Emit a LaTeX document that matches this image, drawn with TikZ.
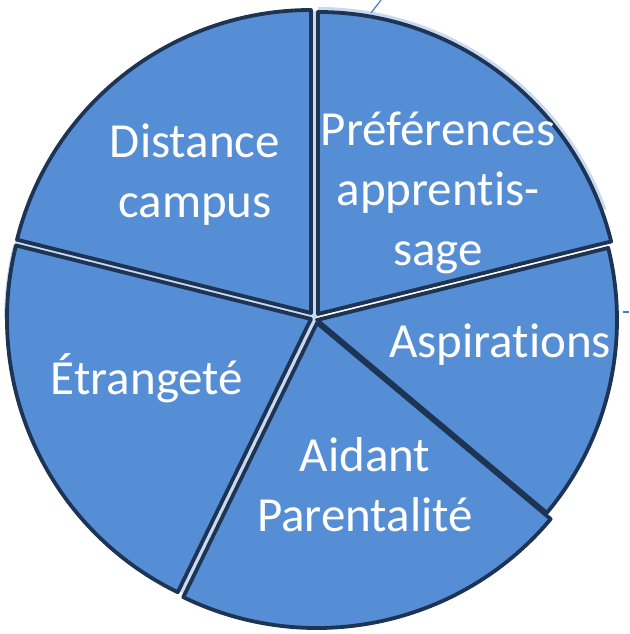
\documentclass[tikz,border=0pt]{standalone}
\usepackage{fontspec}
\setmainfont[Ligatures=NoCommon]{Carlito}
\definecolor{slicefill}{RGB}{85,142,213}
\definecolor{sliceline}{RGB}{30,52,84}
\definecolor{gapcol}{RGB}{200,218,242}
\definecolor{leadcol}{RGB}{74,126,187}
\tikzset{
  slice/.style={fill=slicefill, draw=sliceline, line width=3.8pt, line join=round},
  gapline/.style={draw=gapcol, line width=5pt},
  lbl/.style={text=white, align=center, inner sep=0pt, font=\fontsize{49}{60}\selectfont},
  leader/.style={draw=leadcol, line width=1.2pt}
}
\begin{document}
\begin{tikzpicture}[x=1pt,y=1pt]
\useasboundingbox (0,0) rectangle (629,634);
% base centre
\coordinate (c) at (315,317);
% light gaps and glow
\draw[gapline] (c) -- ++(90:306);
\draw[gapline] (c) -- ++(166:309);
\draw[gapline] (c) -- ++(244:306);
\draw[draw=gapcol, line width=4pt] (318,320) ++(20:305) arc[start angle=20, end angle=90, radius=305];
\draw[draw=gapcol, line width=4pt] (311,315) ++(166:305) arc[start angle=166, end angle=180, radius=305];
% slices
\coordinate (pA) at (318,320);
\coordinate (dA) at (311,321);
\coordinate (eA) at (311,315);
\coordinate (aA) at (317,311);
\coordinate (sA) at (317,314);
\draw[slice] (pA) -- ++(13.9:302) arc[start angle=13.9, end angle=90, radius=302] -- cycle;
\draw[slice] (dA) -- ++(90:303) arc[start angle=90, end angle=166, radius=303] -- cycle;
\draw[slice] (eA) -- ++(166:304) arc[start angle=166, end angle=244, radius=304] -- cycle;
\draw[slice] (aA) -- ++(244:305) arc[start angle=244, end angle=320, radius=305] -- cycle;
\draw[slice] (sA) -- ++(320:300) arc[start angle=320, end angle=373.9, radius=300] -- cycle;
% labels
\node[lbl] (ldist) at (195,459) {Distance\\campus};
\node[lbl] (lpref) at (438,441) {Préférences\\apprentis-\\sage};
\node[lbl] (lasp) at (500,289) {Aspirations};
\node[lbl] (letr) at (147,256) {Étrangeté};
\node[lbl] (laid) at (365,149) {Aidant\\Parentalité};
% leader line stubs
\coordinate (t1) at (371,621);
\coordinate (t2) at (381,634);
\coordinate (r1) at (623,322);
\coordinate (r2) at (629,322);
\draw[leader] (t1) -- (t2);
\draw[leader] (r1) -- (r2);
\end{tikzpicture}
\end{document}
